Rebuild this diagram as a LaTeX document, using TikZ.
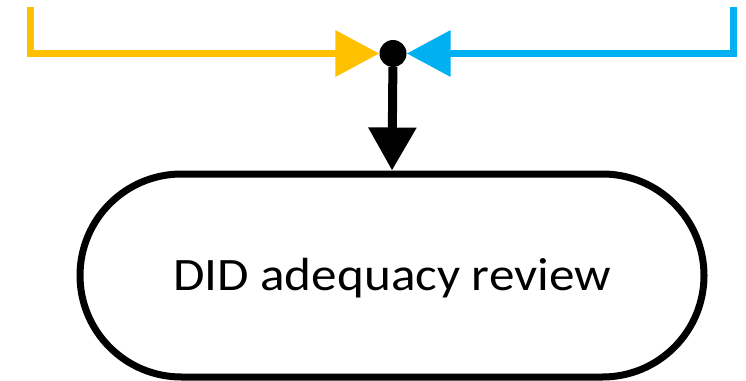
\documentclass[tikz,border=0pt]{standalone}
\usepackage{fontspec}
\setmainfont{Carlito}
\newfontfamily\labelfont[FakeStretch=1.1]{Carlito}
\usetikzlibrary{arrows.meta,shapes.misc}
\definecolor{flowyellow}{HTML}{FFC000}
\definecolor{flowblue}{HTML}{00B0F0}
\tikzset{
  feed/.style={line width=7pt, line join=miter, line cap=butt,
    -{Triangle[length=44pt,width=45pt]}},
  junction/.style={circle, fill=black, inner sep=0pt, minimum size=27pt},
  terminal/.style={rounded rectangle, draw=black, line width=7pt,
    minimum width=624pt, minimum height=203pt, inner sep=0pt,
    text height=30pt, text depth=1pt,
    font=\labelfont\fontsize{46.5}{52}\selectfont},
  mainflow/.style={line width=9pt, -{Triangle[length=43pt,width=46pt]}}
}
\begin{document}
\begin{tikzpicture}[x=1pt,y=-1pt]
  \useasboundingbox (0,0) rectangle (746,380);
  \node[junction] (j) at (393,53.5) {};
  \node[terminal] (rev) at (392,275.5) {DID adequacy review};
  \coordinate (ys) at (30,7);
  \coordinate (bs) at (733.5,7);
  \draw[feed, flowyellow] (ys) |- (j.west);
  \draw[feed, flowblue] (bs) |- (j.east);
  \draw[mainflow] (j) -- (rev.north);
\end{tikzpicture}
\end{document}
